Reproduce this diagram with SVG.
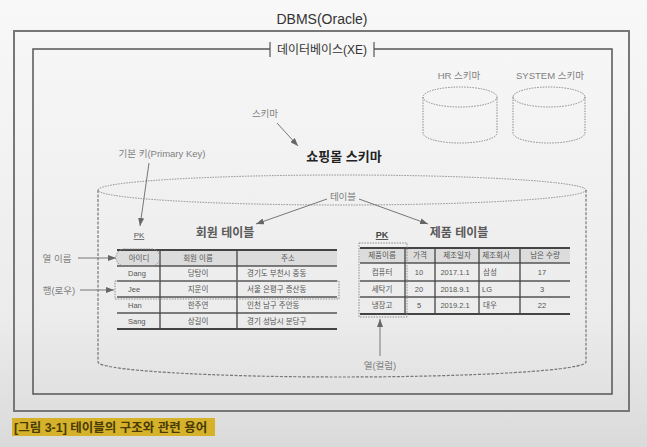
<svg xmlns="http://www.w3.org/2000/svg" width="647" height="447" viewBox="0 0 647 447">
<defs>
<linearGradient id="bg" x1="0" y1="0" x2="0" y2="1">
<stop offset="0" stop-color="#f8f8f8"/>
<stop offset="0.7" stop-color="#ececec"/>
<stop offset="1" stop-color="#dadada"/>
</linearGradient>
<marker id="ah" viewBox="0 0 8 6" refX="8" refY="3" markerWidth="8" markerHeight="6" markerUnits="userSpaceOnUse" orient="auto">
<path d="M0,0 L8,3 L0,6 Z" fill="#666"/>
</marker>
<style>
text{font-family:"Liberation Sans","Noto Sans CJK KR",sans-serif;}
.title{font-size:14px;fill:#333;text-anchor:middle;}
.sub{font-size:12px;fill:#333;text-anchor:middle;}
.lbl{font-size:9.5px;fill:#808080;text-anchor:middle;}
.tname{font-size:12px;fill:#5a5a5a;font-weight:bold;text-anchor:middle;}
.cell{font-size:7.5px;fill:#555;text-anchor:middle;}
.cl{font-size:7.5px;fill:#555;text-anchor:start;}
.dot{fill:none;stroke:#8a8a8a;stroke-width:1;stroke-dasharray:1.5 1.2;}
.wall{fill:none;stroke:#777;stroke-width:1.2;stroke-dasharray:3 1.5;}
.arr{fill:none;stroke:#777;stroke-width:1;marker-end:url(#ah);}
.hl{stroke:#555;stroke-width:1.3;}
.hb{stroke:#444;stroke-width:2;}
.vl{stroke:#444;stroke-width:1.3;}
.hdr{fill:#dcdcdc;}
</style>
</defs>
<rect width="647" height="447" fill="url(#bg)"/>

<g id="dbms">
<text class="title" x="322" y="24">DBMS(Oracle)</text>
<rect x="14" y="31" width="615" height="380" fill="none" stroke="#777" stroke-width="2"/>
</g>

<g id="database">
<path d="M270,49 H33 V394 H612 V49 H374" fill="none" stroke="#555" stroke-width="1.5"/>
<path d="M270,42 V57 M374,42 V57" stroke="#555" stroke-width="1.2"/>
<text class="sub" x="322" y="54">데이터베이스(XE)</text>
</g>

<g id="hr-schema">
<text class="lbl" x="459" y="79">HR 스키마</text>
<ellipse class="dot" cx="460" cy="97" rx="37" ry="10"/>
<path class="dot" d="M423,97 V133 A37,10 0 0 0 497,133 V97"/>
</g>

<g id="system-schema">
<text class="lbl" x="550" y="79">SYSTEM 스키마</text>
<ellipse class="dot" cx="549" cy="97" rx="36" ry="10"/>
<path class="dot" d="M513,97 V133 A36,10 0 0 0 585,133 V97"/>
</g>

<g id="shop-schema">
<text x="344" y="161" style="font-size:13px;font-weight:bold;fill:#222;text-anchor:middle">쇼핑몰 스키마</text>
<ellipse class="dot" cx="342" cy="190" rx="244" ry="15"/>
<path class="wall" d="M98,190 V362 A244,15 0 0 0 586,362 V190"/>
</g>

<g id="labels">
<text class="lbl" x="265" y="117">스키마</text>
<text class="lbl" x="162" y="157">기본 키(Primary Key)</text>
<text class="lbl" x="343" y="200">테이블</text>
<text class="lbl" x="57" y="262">열 이름</text>
<text class="lbl" x="59" y="294">행(로우)</text>
<text class="lbl" x="380" y="369">열(컬럼)</text>
</g>

<g id="member-table">
<text class="tname" x="225" y="237">회원 테이블</text>
<text x="139" y="238" style="font-size:8px;fill:#555;text-anchor:middle;text-decoration:underline">PK</text>
<rect class="hdr" x="117" y="250" width="220" height="16"/>
<line class="hb" x1="117" y1="250" x2="337" y2="250"/>
<line class="hl" x1="117" y1="266" x2="337" y2="266"/>
<line class="hl" x1="117" y1="281" x2="337" y2="281"/>
<line class="hl" x1="117" y1="297" x2="337" y2="297"/>
<line class="hl" x1="117" y1="313" x2="337" y2="313"/>
<line class="hb" x1="117" y1="329" x2="337" y2="329"/>
<line class="vl" x1="160" y1="250" x2="160" y2="329"/>
<line class="vl" x1="237" y1="250" x2="237" y2="329"/>
<text class="cell" x="139" y="261">아이디</text>
<text class="cell" x="198" y="261">회원 이름</text>
<text class="cell" x="288" y="261">주소</text>
<text class="cl" x="128" y="276">Dang</text>
<text class="cell" x="198" y="276">당탕이</text>
<text class="cl" x="247" y="276">경기도 부천시 중동</text>
<text class="cl" x="128" y="292">Jee</text>
<text class="cell" x="198" y="292">지운이</text>
<text class="cl" x="247" y="292">서울 은평구 증산동</text>
<text class="cl" x="128" y="308">Han</text>
<text class="cell" x="198" y="308">한주연</text>
<text class="cl" x="247" y="308">인천 남구 주안동</text>
<text class="cl" x="128" y="324">Sang</text>
<text class="cell" x="198" y="324">상길이</text>
<text class="cl" x="247" y="324">경기 성남시 분당구</text>
<rect class="dot" x="116" y="249" width="44" height="17" rx="8.5"/>
<rect class="dot" x="115" y="281" width="224" height="18"/>
</g>

<g id="product-table">
<text class="tname" x="459" y="237">제품 테이블</text>
<text x="382" y="238" style="font-size:9px;font-weight:bold;fill:#444;text-anchor:middle;text-decoration:underline">PK</text>
<rect class="hdr" x="360" y="248" width="210" height="15"/>
<line class="hb" x1="360" y1="248" x2="570" y2="248"/>
<line class="hl" x1="360" y1="263" x2="570" y2="263"/>
<line class="hl" x1="360" y1="281" x2="570" y2="281"/>
<line class="hl" x1="360" y1="297" x2="570" y2="297"/>
<line class="hb" x1="360" y1="314" x2="570" y2="314"/>
<line class="vl" x1="405" y1="248" x2="405" y2="314"/>
<line class="vl" x1="435" y1="248" x2="435" y2="314"/>
<line class="vl" x1="479" y1="248" x2="479" y2="314"/>
<line class="vl" x1="520" y1="248" x2="520" y2="314"/>
<text class="cell" x="382" y="258">제품이름</text>
<text class="cell" x="420" y="258">가격</text>
<text class="cell" x="457" y="258">제조일자</text>
<text class="cell" x="496" y="258">제조회사</text>
<text class="cell" x="545" y="258">남은 수량</text>
<text class="cell" x="382" y="275">컴퓨터</text>
<text class="cell" x="419" y="275">10</text>
<text class="cell" x="455" y="275">2017.1.1</text>
<text class="cell" x="490" y="275">삼성</text>
<text class="cell" x="542" y="275">17</text>
<text class="cell" x="382" y="292">세탁기</text>
<text class="cell" x="419" y="292">20</text>
<text class="cell" x="455" y="292">2018.9.1</text>
<text class="cell" x="487" y="292">LG</text>
<text class="cell" x="542" y="292">3</text>
<text class="cell" x="382" y="308">냉장고</text>
<text class="cell" x="419" y="308">5</text>
<text class="cell" x="455" y="308">2019.2.1</text>
<text class="cell" x="490" y="308">대우</text>
<text class="cell" x="542" y="308">22</text>
<rect class="dot" x="359" y="243" width="48" height="74"/>
</g>

<g id="connectors">
<line class="arr" x1="277" y1="123" x2="298" y2="146"/>
<line class="arr" x1="149" y1="163" x2="140" y2="226"/>
<line class="arr" x1="327" y1="199" x2="256" y2="224"/>
<line class="arr" x1="359" y1="199" x2="428" y2="224"/>
<line class="arr" x1="78" y1="258" x2="116" y2="258"/>
<line class="arr" x1="80" y1="290" x2="114" y2="290"/>
<line class="arr" x1="380" y1="356" x2="380" y2="319"/>
</g>

<g id="caption">
<rect x="12" y="418" width="203" height="18" fill="#d6b22a"/>
<text x="14" y="431.5" style="font-size:12.5px;font-weight:bold;fill:#4a3b05">[그림 3-1] 테이블의 구조와 관련 용어</text>
</g>
</svg>
